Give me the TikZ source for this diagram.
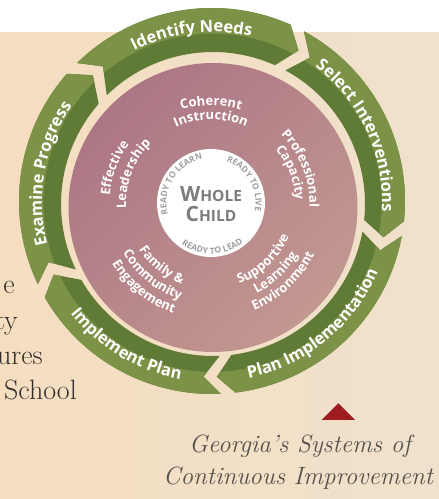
\documentclass[tikz,border=0pt]{standalone}
\usepackage{fontspec}
\newfontfamily\osans{Open Sans}
\usetikzlibrary{decorations.text,calc}

\definecolor{bgL}{RGB}{245,222,192}
\definecolor{bgR}{RGB}{240,225,204}
\definecolor{gLight}{RGB}{123,146,71}
\definecolor{gDark}{RGB}{95,123,53}
\definecolor{pinkA}{RGB}{172,118,132}
\definecolor{pinkB}{RGB}{194,152,145}
\definecolor{grayT}{RGB}{125,125,125}
\definecolor{grayR}{RGB}{160,160,160}
\definecolor{serifT}{RGB}{50,47,45}
\definecolor{titleT}{RGB}{85,80,76}
\definecolor{redT}{RGB}{158,28,32}

\newcommand\rfont{\osans\bfseries\fontsize{16.5}{16.5}\selectfont\color{white}}
\newcommand\pfont{\osans\bfseries\fontsize{13}{13}\selectfont\color{white}}
\newcommand\yfont{\osans\bfseries\fontsize{8.6}{8.6}\selectfont\color{grayR}}

\def\dd{5.5}
\def\hh{2.2}
\newcommand\ringseg[2]{%
 \pgfmathsetmacro\aA{#1+\dd/2-\hh}%
 \pgfmathsetmacro\aB{#1-\dd/2-\hh}%
 \pgfmathsetmacro\aC{#2+\dd/2+\hh}%
 \pgfmathsetmacro\aD{#2-\dd/2+\hh}%
 \fill[gDark] ($(Co)+(\aA:193)$) arc[start angle=\aA, end angle=\aC, radius=193] -- ($(Cm)+(\aD:174.5)$) -- ($(Ci)+(\aC:152)$) arc[start angle=\aC, end angle=\aA, radius=152] -- ($(Cm)+(\aB:174.5)$) -- cycle;
 \begin{scope}
 \clip ($(Co)+(\aA:193)$) arc[start angle=\aA, end angle=\aC, radius=193] -- ($(Cm)+(\aD:174.5)$) -- ($(Ci)+(\aC:152)$) arc[start angle=\aC, end angle=\aA, radius=152] -- ($(Cm)+(\aB:174.5)$) -- cycle;
 \fill[gLight, even odd rule] (Cs) circle (169.2) (Co) circle (200);
 \end{scope}%
}
% text along an arc: centre, radius, centre angle, direction (+1 ccw, -1 cw), text
\newcommand\arctext[5]{%
 \pgfmathsetmacro\tA{#3-65*#4}%
 \pgfmathsetmacro\tB{#3+65*#4}%
 \path[decorate, decoration={text along path, text align=center, text={#5}}]
   ($(#1)+(\tA:#2)$) arc[start angle=\tA, end angle=\tB, radius=#2];%
}

\begin{document}
\begin{tikzpicture}[x=1pt,y=1pt]
\useasboundingbox (0,0) rectangle (439,499);
\shade[left color=bgL, right color=bgR] (0,0) rectangle (439,467);
\fill[white] (0,467) rectangle (439,499);

\coordinate (Co) at (212,298);
\coordinate (Ci) at (213,295);
\coordinate (Cm) at (212.45,296.65);
\coordinate (Cs) at (212.58,296.26);
\coordinate (R) at (212,297);
\coordinate (P) at (213,291.5);
\coordinate (T) at (211,295);
\coordinate (W) at (211,296);

% left serif text (cut by the page edge)
\begin{scope}[every node/.style={anchor=base east, inner sep=0pt, text=serifT, font=\fontsize{28}{28}\selectfont}]
\node (l1) at (15,205) {e};
\node (l2) at (18,169) {ty};
\node (l3) at (43,134) {ures};
\node (l4) at (77,99) {School};
\end{scope}

% outer ring
\ringseg{133.8}{61}
\ringseg{61}{-11}
\ringseg{-11}{-88}
\ringseg{-88}{-155}
\ringseg{-155}{-226.2}

\arctext{R}{170}{97}{-1}{|\rfont|Identify Needs}
\arctext{R}{170}{24.7}{-1}{|\rfont|Select Interventions}
\arctext{R}{170}{170}{-1}{|\rfont|Examine Progress}
\arctext{R}{180}{-50.5}{1}{|\rfont|Plan Implementation}
\arctext{R}{180}{239}{1}{|\rfont|Implement Plan}

% pink disc
\shade[top color=pinkA, bottom color=pinkB, shading angle=45] (P) circle (144.5);

\arctext{T}{98.5}{90}{-1}{|\pfont|Coherent}
\arctext{T}{84.5}{90}{-1}{|\pfont|Instruction}
\arctext{T}{101.5}{159.5}{-1}{|\pfont|Effective}
\arctext{T}{85}{159}{-1}{|\pfont|Leadership}
\arctext{T}{98.5}{21.5}{-1}{|\pfont|Professional}
\arctext{T}{84.5}{21.5}{-1}{|\pfont|Capacity}
\arctext{T}{85}{231}{1}{|\pfont|Family {\&}}
\arctext{T}{100.5}{230.5}{1}{|\pfont|Community}
\arctext{T}{115.5}{231}{1}{|\pfont|Engagement}
\arctext{T}{84.5}{-46.5}{1}{|\pfont|Supportive}
\arctext{T}{100.5}{-46.7}{1}{|\pfont|Learning}
\arctext{T}{115}{-47}{1}{|\pfont|Environment}

% centre
\fill[white] (W) circle (54);
\node[anchor=base, inner sep=0pt, text=grayT, font=\osans\bfseries] (whole) at (211,297.3) {\fontsize{21}{21}\selectfont W\fontsize{15.5}{15.5}\selectfont HOLE};
\node[anchor=base, inner sep=0pt, text=grayT, font=\osans\bfseries] (child) at (211,277.3) {\fontsize{21}{21}\selectfont C\fontsize{15.5}{15.5}\selectfont HILD};
\arctext{W}{44.5}{147.6}{-1}{|\yfont|READY TO LEARN}
\arctext{W}{44.5}{29.5}{-1}{|\yfont|READY TO LIVE}
\arctext{W}{51}{272}{1}{|\yfont|READY TO LEAD}

% caption
\fill[redT] (321.7,79) -- (355,79) -- (338.3,95.7) -- cycle;
\node[anchor=base, inner sep=0pt, text=titleT, font=\itshape\fontsize{25}{25}\selectfont] (cap1) at (300,46) {Georgia’s Systems of};
\node[anchor=base, inner sep=0pt, text=titleT, font=\itshape\fontsize{25}{25}\selectfont] (cap2) at (298,15) {Continuous Improvement};
\end{tikzpicture}
\end{document}
